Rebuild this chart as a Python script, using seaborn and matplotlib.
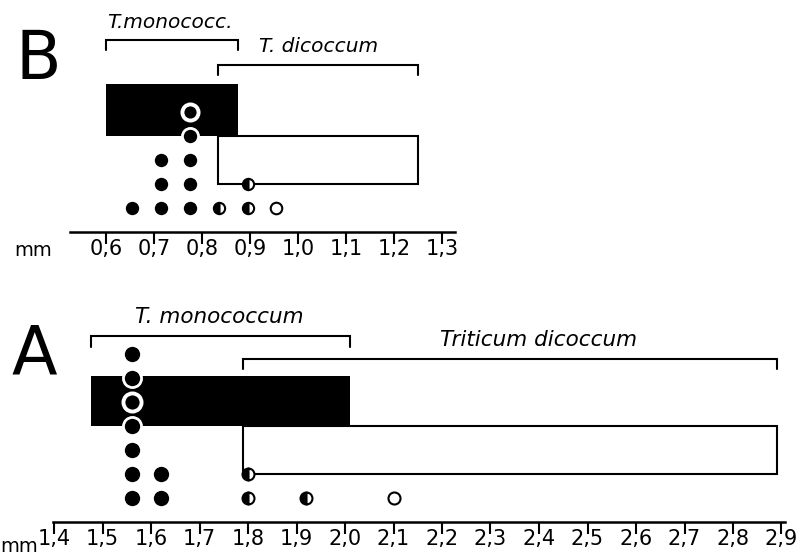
import numpy as np
import pandas as pd
import seaborn as sbn
import matplotlib.pyplot as plt

# %% Dados (mm)
b_ticks = [0.6, 0.7, 0.8, 0.9, 1.0, 1.1, 1.2, 1.3]
b_tick_labels = ['0,6', '0,7', '0,8', '0,9', '1,0', '1,1', '1,2', '1,3']
b_mono = (0.60, 0.875)      # T. monococcum: faixa
b_dico = (0.833, 1.25)      # T. dicoccum: faixa
b_x = [0.655, 0.715, 0.775, 0.835, 0.895, 0.955, 0.715, 0.775, 0.895, 0.715, 0.775, 0.775, 0.775]
b_level = [1, 1, 1, 1, 1, 1, 2, 2, 2, 3, 3, 4, 5]
b_kind = ['filled', 'filled', 'filled', 'half', 'half', 'open',
          'filled', 'filled', 'half', 'filled', 'filled', 'filled', 'open']

a_ticks = [1.4, 1.5, 1.6, 1.7, 1.8, 1.9, 2.0, 2.1, 2.2, 2.3, 2.4, 2.5, 2.6, 2.7, 2.8, 2.9]
a_tick_labels = ['1,4', '1,5', '1,6', '1,7', '1,8', '1,9', '2,0', '2,1',
                 '2,2', '2,3', '2,4', '2,5', '2,6', '2,7', '2,8', '2,9']
a_mono = (1.477, 2.01)
a_dico = (1.79, 2.89)
a_x = [1.56, 1.62, 1.80, 1.92, 2.10, 1.56, 1.62, 1.80, 1.56, 1.56, 1.56, 1.56, 1.56]
a_level = [1, 1, 1, 1, 1, 2, 2, 2, 3, 4, 5, 6, 7]
a_kind = ['filled', 'filled', 'half', 'half', 'open',
          'filled', 'filled', 'half', 'filled', 'filled', 'open', 'filled', 'filled']

df_b = pd.DataFrame({'x': b_x, 'nivel': b_level, 'tipo': b_kind})
df_a = pd.DataFrame({'x': a_x, 'nivel': a_level, 'tipo': a_kind})

# %% Estilo
sbn.set_theme(style='white')
plt.rcParams['font.family'] = ['Liberation Sans Narrow', 'DejaVu Sans']
plt.rcParams['text.color'] = 'black'

W, H = 799, 556
ROW = 24.0          # px por nível
AX_H = 232          # px

fig = plt.figure(figsize=(W / 100, H / 100), dpi=100)
ax_b = fig.add_axes([0, (H - 232) / H, 1, AX_H / H])
ax_a = fig.add_axes([0, (H - 522) / H, 1, AX_H / H])
ax_b.set_xlim(0.6 - 106 / 480, 0.6 + 693 / 480)
ax_a.set_xlim(1.4 - 54 / 485, 1.4 + 745 / 485)


def eixo(ax, ticks, labels, bounds):
    ax.set_ylim(0, AX_H / ROW)
    ax.set_facecolor('none')
    for s in ['top', 'left', 'right']:
        ax.spines[s].set_visible(False)
    ax.spines['bottom'].set_bounds(*bounds)
    ax.spines['bottom'].set_linewidth(1.8)
    ax.spines['bottom'].set_color('black')
    ax.set_xticks(ticks)
    ax.set_xticklabels(labels)
    ax.set_yticks([])
    ax.tick_params(axis='x', bottom=True, direction='out', length=8.5, width=1.5,
                   pad=-3.5, labelsize=15, colors='black')


def chave(ax, faixa, nivel, texto, tx, ty, fs):
    x0, x1 = faixa
    ax.plot([x0, x0, x1, x1], [nivel - 0.42, nivel, nivel, nivel - 0.42],
            color='black', lw=1.5, solid_joinstyle='miter')
    ax.text(tx, ty, texto, style='italic', ha='center', va='center', fontsize=fs,
            family=['DejaVu Sans'], color='black')


def caixas(ax, mono, dico, topo):
    ax.barh(y=3, width=dico[1] - dico[0], left=dico[0], height=2,
            facecolor='white', edgecolor='black', linewidth=1.5, zorder=1)
    ax.barh(y=(4 + topo) / 2, width=mono[1] - mono[0], left=mono[0], height=topo - 4,
            color='black', linewidth=0, zorder=2)


def pontos(ax, df, mono, topo, s_cheio, s_aberto, ms_meio):
    dentro = (df['x'].between(*mono)) & (df['nivel'].between(4, topo))
    cheio = df[df['tipo'] == 'filled']
    sbn.scatterplot(data=cheio, x='x', y='nivel', color='black', edgecolor='white',
                    linewidth=2.0, s=s_cheio, ax=ax, zorder=5)
    aberto_fora = df[(df['tipo'] == 'open') & ~dentro]
    sbn.scatterplot(data=aberto_fora, x='x', y='nivel', color='white', edgecolor='black',
                    linewidth=1.5, s=s_aberto, ax=ax, zorder=5)
    aberto_dentro = df[(df['tipo'] == 'open') & dentro]
    sbn.scatterplot(data=aberto_dentro, x='x', y='nivel', color='black', edgecolor='white',
                    linewidth=2.8, s=s_cheio, ax=ax, zorder=5)
    meio = df[df['tipo'] == 'half']
    ax.plot(meio['x'], meio['nivel'], 'o', fillstyle='left', ms=ms_meio,
            mfc='black', mfcalt='white', mec='black', mew=1.5, zorder=5)
    ax.set_xlabel('')
    ax.set_ylabel('')


# %% Painel B
eixo(ax_b, b_ticks, b_tick_labels, (0.525, 1.327))
caixas(ax_b, b_mono, b_dico, 6.17)
pontos(ax_b, df_b, b_mono, 6.17, 135, 69, 8.1)
chave(ax_b, b_mono, 8.0, 'T.monococc.', 0.733, 8.75, 14.5)
chave(ax_b, b_dico, 6.96, 'T. dicoccum', 1.042, 7.71, 14.5)
ax_b.text(0.46, 7.17, 'B', fontsize=48, ha='center', va='center', color='black')

# %% Painel A
eixo(ax_a, a_ticks, a_tick_labels, (1.398, 2.907))
caixas(ax_a, a_mono, a_dico, 6.08)
pontos(ax_a, df_a, a_mono, 6.08, 170, 75, 8.6)
chave(ax_a, a_mono, 7.73, 'T. monococcum', 1.74, 8.55, 15.5)
chave(ax_a, a_dico, 6.78, 'Triticum dicoccum', 2.40, 7.6, 15.5)
ax_a.text(1.359, 6.94, 'A', fontsize=48, ha='center', va='center', color='black')

fig.text(33 / W, 1 - 250 / H, 'mm', ha='center', va='center', fontsize=14, color='black')
fig.text(19 / W, 1 - 547 / H, 'mm', ha='center', va='center', fontsize=14, color='black')

plt.savefig('out.png', dpi=100)
